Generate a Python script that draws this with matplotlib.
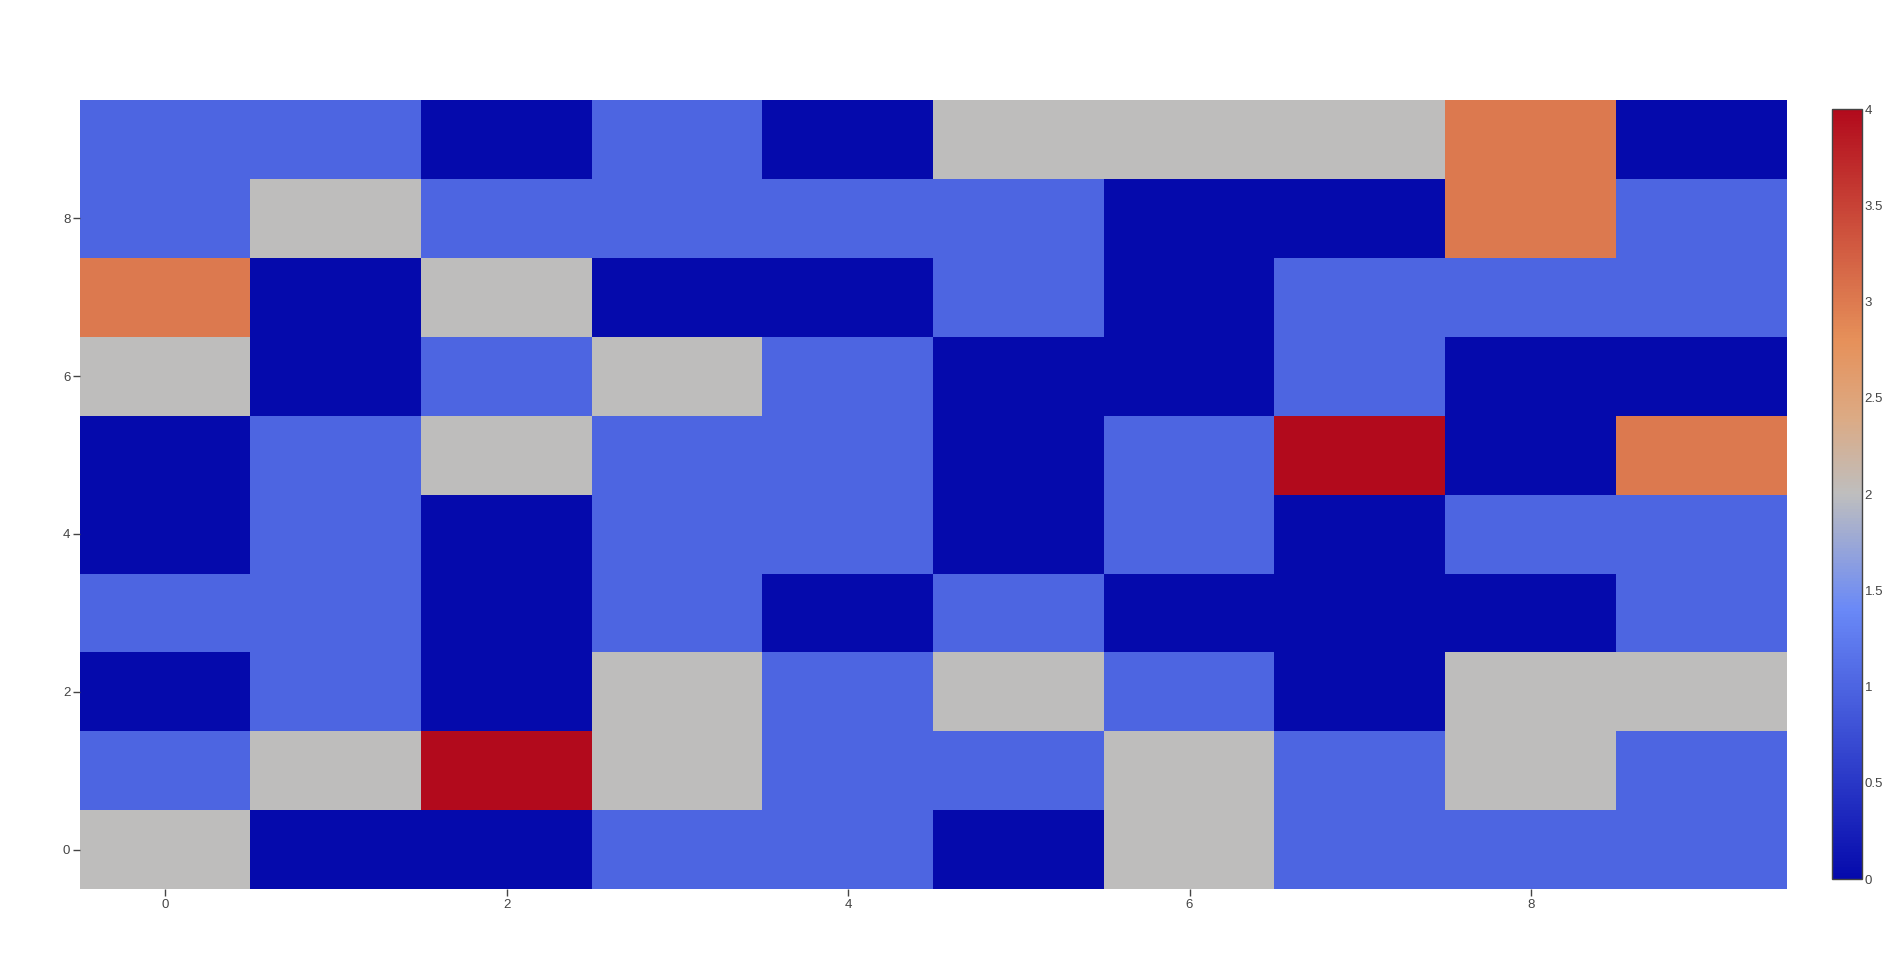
import numpy as np
import matplotlib.pyplot as plt
from matplotlib.colors import LinearSegmentedColormap

# grid values, row 0 at the bottom
z = [
    [2, 0, 0, 1, 1, 0, 2, 1, 1, 1],
    [1, 2, 4, 2, 1, 1, 2, 1, 2, 1],
    [0, 1, 0, 2, 1, 2, 1, 0, 2, 2],
    [1, 1, 0, 1, 0, 1, 0, 0, 0, 1],
    [0, 1, 0, 1, 1, 0, 1, 0, 1, 1],
    [0, 1, 2, 1, 1, 0, 1, 4, 0, 3],
    [2, 0, 1, 2, 1, 0, 0, 1, 0, 0],
    [3, 0, 2, 0, 0, 1, 0, 1, 1, 1],
    [1, 2, 1, 1, 1, 1, 0, 0, 3, 1],
    [1, 1, 0, 1, 0, 2, 2, 2, 3, 0],
]
x_ticks = [0, 2, 4, 6, 8]
y_ticks = [0, 2, 4, 6, 8]
cbar_ticks = [0, 0.5, 1, 1.5, 2, 2.5, 3, 3.5, 4]

plt.rcParams['font.family'] = ['Liberation Sans', 'DejaVu Sans']

# plotly RdBu-like scale
stops = [(0, (5, 10, 172)), (0.35, (106, 137, 247)), (0.5, (190, 190, 190)),
         (0.6, (220, 170, 132)), (0.7, (230, 145, 90)), (1, (178, 10, 28))]
cmap = LinearSegmentedColormap.from_list(
    "rdbu", [(s, tuple(c / 255 for c in col)) for s, col in stops])

W, H = 1904, 969
fig = plt.figure(figsize=(W / 100, H / 100), dpi=100)
ax = fig.add_axes([80 / W, 1 - 889 / H, (1787 - 80) / W, (889 - 100) / H])
data = np.array(z)
im = ax.imshow(data, cmap=cmap, vmin=0, vmax=4, origin="lower",
               extent=(-0.5, 9.5, -0.5, 9.5), aspect="auto",
               interpolation="nearest")
ax.set_xlim(-0.5, 9.5)
ax.set_ylim(-0.5, 9.5)
ax.set_xticks(x_ticks)
ax.set_yticks(y_ticks)
for s in ax.spines.values():
    s.set_visible(False)
ax.tick_params(length=5, width=1, color="#444444", labelcolor="#444444",
               labelsize=9.5, pad=2)

cax = fig.add_axes([1832 / W, 1 - 879 / H, 30 / W, (879 - 109) / H])
cb = fig.colorbar(im, cax=cax, ticks=cbar_ticks)
cb.ax.set_yticklabels([f"{t:g}" for t in cbar_ticks])
cb.outline.set_edgecolor("#444444")
cb.outline.set_linewidth(1)
cb.ax.tick_params(length=0, labelsize=9.5, labelcolor="#444444", pad=2)

fig.savefig("out.png", dpi=100)
